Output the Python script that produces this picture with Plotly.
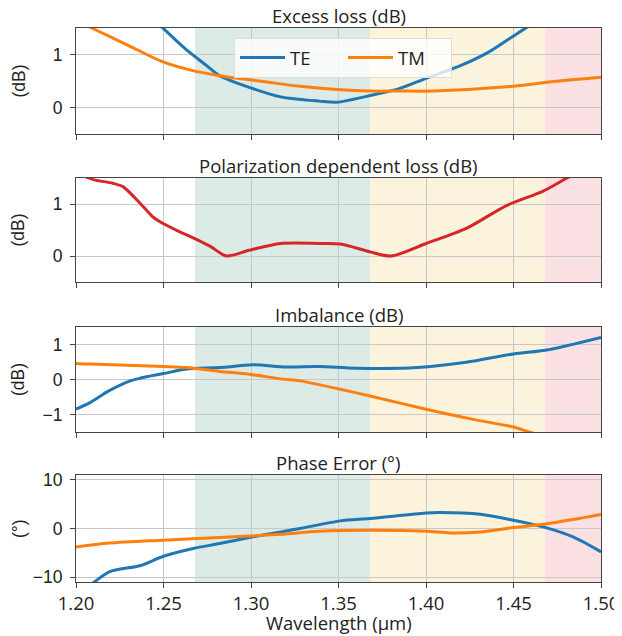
import plotly.graph_objects as go
from plotly.subplots import make_subplots

# ---- data ----
el_te_x = [1.200, 1.220, 1.240, 1.249, 1.262, 1.275, 1.282, 1.299, 1.317, 1.339, 1.349, 1.366, 1.385, 1.400, 1.419, 1.435, 1.450, 1.458, 1.470, 1.500]
el_te_y = [2.9, 2.35, 1.8, 1.52, 1.12, 0.78, 0.60, 0.38, 0.20, 0.12, 0.10, 0.21, 0.36, 0.55, 0.78, 1.03, 1.35, 1.52, 1.75, 2.4]
el_tm_x = [1.200, 1.209, 1.233, 1.249, 1.265, 1.282, 1.307, 1.328, 1.349, 1.368, 1.385, 1.404, 1.450, 1.473, 1.500]
el_tm_y = [1.64, 1.50, 1.12, 0.87, 0.71, 0.60, 0.49, 0.40, 0.34, 0.31, 0.31, 0.31, 0.40, 0.49, 0.57]

pdl_x = [1.200, 1.210, 1.221, 1.227, 1.237, 1.244, 1.250, 1.259, 1.267, 1.277, 1.286, 1.299, 1.317, 1.339, 1.351, 1.368, 1.380, 1.400, 1.423, 1.446, 1.467, 1.480, 1.500]
pdl_y = [1.60, 1.47, 1.40, 1.33, 1.00, 0.75, 0.62, 0.47, 0.35, 0.18, 0.00, 0.11, 0.24, 0.24, 0.23, 0.08, 0.00, 0.24, 0.53, 0.97, 1.25, 1.49, 1.85]

imb_te_x = [1.200, 1.208, 1.219, 1.231, 1.237, 1.250, 1.263, 1.282, 1.301, 1.320, 1.339, 1.360, 1.395, 1.423, 1.450, 1.469, 1.500]
imb_te_y = [-0.85, -0.66, -0.32, -0.04, 0.04, 0.17, 0.30, 0.34, 0.42, 0.36, 0.37, 0.32, 0.34, 0.49, 0.73, 0.84, 1.20]
imb_tm_x = [1.200, 1.208, 1.250, 1.263, 1.282, 1.299, 1.318, 1.328, 1.351, 1.368, 1.400, 1.427, 1.450, 1.461, 1.500]
imb_tm_y = [0.46, 0.44, 0.37, 0.34, 0.23, 0.15, 0.01, -0.04, -0.28, -0.47, -0.85, -1.14, -1.36, -1.53, -2.0]

ph_te_x = [1.200, 1.210, 1.219, 1.237, 1.250, 1.267, 1.282, 1.299, 1.317, 1.328, 1.351, 1.368, 1.400, 1.408, 1.431, 1.450, 1.467, 1.484, 1.500]
ph_te_y = [-13.0, -11.1, -8.9, -7.6, -5.7, -4.1, -3.1, -1.86, -0.7, 0.0, 1.57, 2.06, 3.2, 3.3, 2.95, 1.7, 0.33, -1.73, -4.8]
ph_tm_x = [1.200, 1.219, 1.250, 1.282, 1.317, 1.339, 1.368, 1.400, 1.414, 1.431, 1.450, 1.467, 1.484, 1.500]
ph_tm_y = [-3.8, -3.0, -2.4, -1.86, -1.18, -0.56, -0.35, -0.56, -0.9, -0.7, 0.2, 0.89, 1.86, 2.9]

titles = ["Excess loss (dB)", "Polarization dependent loss (dB)", "Imbalance (dB)", "Phase Error (°)"]
ylabels = ["(dB)", "(dB)", "(dB)", "(°)"]
xlabel = "Wavelength (µm)"
yranges = [[-0.5, 1.5], [-0.5, 1.5], [-1.5, 1.5], [-11, 11]]
ytickvals = [[0, 1], [0, 1], [-1, 0, 1], [-10, 0, 10]]
xticks = [1.20, 1.25, 1.30, 1.35, 1.40, 1.45, 1.50]
bands = [(1.268, 1.368, "#dcebe6"), (1.368, 1.468, "#fbf3dc"), (1.468, 1.50, "#fbe0e4")]

C_TE, C_TM, C_PDL = "#1f77b4", "#ff7f0e", "#d62728"
FONT = "Open Sans"
YFONT = "Liberation Sans"
FS = 18.5
YFS = 17.5
TXT = "#222222"

fig = make_subplots(rows=4, cols=1, shared_xaxes=True)

def line(c):
    return dict(color=c, width=3, shape="spline", smoothing=0.8)

fig.add_trace(go.Scatter(x=el_te_x, y=el_te_y, name="TE", mode="lines", line=line(C_TE)), row=1, col=1)
fig.add_trace(go.Scatter(x=el_tm_x, y=el_tm_y, name="TM", mode="lines", line=line(C_TM)), row=1, col=1)
fig.add_trace(go.Scatter(x=pdl_x, y=pdl_y, name="PDL", mode="lines", showlegend=False, line=line(C_PDL)), row=2, col=1)
fig.add_trace(go.Scatter(x=imb_te_x, y=imb_te_y, name="TE", mode="lines", showlegend=False, line=line(C_TE)), row=3, col=1)
fig.add_trace(go.Scatter(x=imb_tm_x, y=imb_tm_y, name="TM", mode="lines", showlegend=False, line=line(C_TM)), row=3, col=1)
fig.add_trace(go.Scatter(x=ph_te_x, y=ph_te_y, name="TE", mode="lines", showlegend=False, line=line(C_TE)), row=4, col=1)
fig.add_trace(go.Scatter(x=ph_tm_x, y=ph_tm_y, name="TM", mode="lines", showlegend=False, line=line(C_TM)), row=4, col=1)

domains = [[0.8087, 1.0], [0.5415, 0.7292], [0.2708, 0.4603], [0.0, 0.1931]]

for i in range(4):
    r = i + 1
    ax = "" if r == 1 else str(r)
    for x0, x1, col in bands:
        fig.add_shape(type="rect", xref="x" + ax, yref="y" + ax + " domain", x0=x0, x1=x1, y0=0, y1=1,
                      fillcolor=col, line=dict(width=0), layer="below")
    fig.update_yaxes(row=r, col=1, domain=domains[i], range=yranges[i], tickvals=ytickvals[i],
                     ticktext=[("−" + str(abs(v))) if v < 0 else str(v) for v in ytickvals[i]],
                     showgrid=True, gridcolor="#c8c8c8", gridwidth=1, zeroline=False,
                     showline=True, linecolor="#444444", linewidth=1.2, mirror=True,
                     ticks="outside", ticklen=5, tickcolor="#444444", automargin=False,
                     ticklabelstandoff=4,
                     tickfont=dict(family=YFONT, size=YFS, color=TXT))
    fig.update_xaxes(row=r, col=1, range=[1.20, 1.50], tickvals=xticks,
                     ticktext=[f"{v:.2f}" for v in xticks], showticklabels=(r == 4),
                     showgrid=True, gridcolor="#c8c8c8", gridwidth=1, zeroline=False,
                     showline=True, linecolor="#444444", linewidth=1.2, mirror=True,
                     ticks="outside", ticklen=5, tickcolor="#444444", automargin=False,
                     tickfont=dict(family=FONT, size=FS, color=TXT))
    fig.add_annotation(text=titles[i], xref="paper", yref="paper", x=0.5, y=domains[i][1],
                       yanchor="bottom", xanchor="center", showarrow=False, yshift=-2,
                       font=dict(family=FONT, size=FS, color=TXT))
    fig.add_annotation(text=ylabels[i], xref="paper", yref="paper", x=-0.1095,
                       y=(domains[i][0] + domains[i][1]) / 2, textangle=-90,
                       xanchor="center", yanchor="middle", showarrow=False,
                       font=dict(family=YFONT, size=YFS, color=TXT))

fig.add_annotation(text=xlabel, xref="paper", yref="paper", x=0.5, y=-0.074,
                   xanchor="center", yanchor="middle", showarrow=False,
                   font=dict(family=FONT, size=FS, color=TXT))

# page body has an 8px margin, so the figure is 8px smaller and margins shifted
fig.update_layout(
    width=614, height=628,
    margin=dict(l=68, r=21, t=20, b=54, autoexpand=False),
    plot_bgcolor="white", paper_bgcolor="white",
    font=dict(family=FONT, size=FS, color=TXT),
    showlegend=True,
    legend=dict(orientation="h", x=0.301, y=0.982, xanchor="left", yanchor="top",
                bgcolor="rgba(255,255,255,0.8)", bordercolor="#dddddd", borderwidth=1,
                entrywidth=48, entrywidthmode="pixels", itemwidth=45,
                font=dict(family=FONT, size=FS, color=TXT)),
)

fig.write_html("out.html")
